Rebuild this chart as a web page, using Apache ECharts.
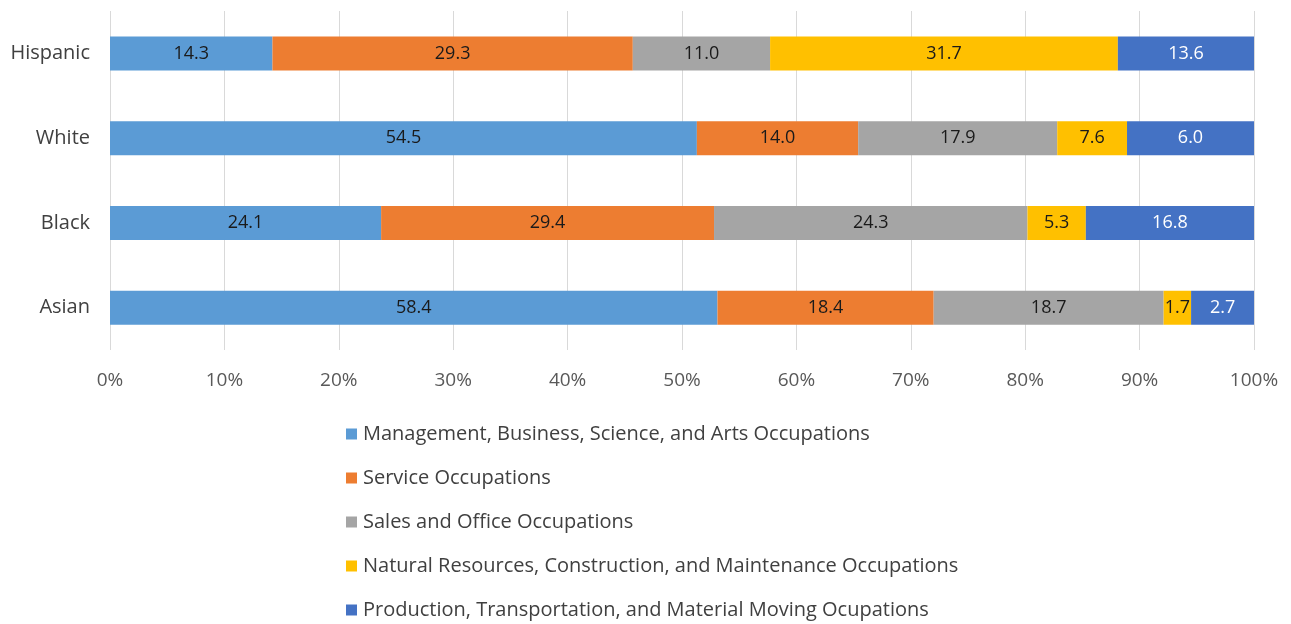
<!DOCTYPE html>
<html>
<head>
<meta charset="utf-8">
<script src="https://cdn.jsdelivr.net/npm/echarts@6/dist/echarts.min.js"></script>
<style>
  html, body { margin: 0; padding: 0; background: #fff; }
  #chart { width: 1291px; height: 624px; }
</style>
</head>
<body>
<div id="chart"></div>
<script>
// categories, top to bottom
const groups = ["Hispanic", "White", "Black", "Asian"];

const occupations = [
  "Management, Business, Science, and Arts Occupations",
  "Service Occupations",
  "Sales and Office Occupations",
  "Natural Resources, Construction, and Maintenance Occupations",
  "Production, Transportation, and Material Moving Ocupations"
];

// bar widths as drawn (share of 100%)
const mgmtWidth  = [14.2, 51.3, 23.7, 53.1];
const servWidth  = [31.5, 14.1, 29.1, 18.9];
const salesWidth = [12.0, 17.4, 27.4, 20.1];
const natWidth   = [30.4, 6.1, 5.1, 2.4];
const prodWidth  = [11.9, 11.1, 14.7, 5.5];

// data labels printed on the bars
const mgmtLabel  = ["14.3", "54.5", "24.1", "58.4"];
const servLabel  = ["29.3", "14.0", "29.4", "18.4"];
const salesLabel = ["11.0", "17.9", "24.3", "18.7"];
const natLabel   = ["31.7", "7.6", "5.3", "1.7"];
const prodLabel  = ["13.6", "6.0", "16.8", "2.7"];

const xTicks = [0, 10, 20, 30, 40, 50, 60, 70, 80, 90, 100];

const colors = ["#5B9BD5", "#ED7D31", "#A5A5A5", "#FFC000", "#4472C4"];
const widths = [mgmtWidth, servWidth, salesWidth, natWidth, prodWidth];
const labels = [mgmtLabel, servLabel, salesLabel, natLabel, prodLabel];

const font = "'Open Sans', 'Noto Sans', sans-serif";

let chart = echarts.init(document.getElementById("chart"));

let series = occupations.map((name, i) => ({
  name: name,
  type: "bar",
  stack: "total",
  barWidth: 34,
  itemStyle: { color: colors[i] },
  label: {
    show: true,
    position: "inside",
    fontFamily: font,
    fontSize: 18,
    color: i === 4 ? "#ffffff" : "#1a1a1a",
    formatter: (p) => labels[i][p.dataIndex]
  },
  data: widths[i]
}));

chart.setOption({
  animation: false,
  textStyle: { fontFamily: font },
  grid: { left: 110, right: 37, top: 11, height: 339, containLabel: false },
  legend: {
    orient: "vertical",
    left: 346,
    top: 424,
    height: 240,
    padding: 0,
    itemWidth: 11,
    itemHeight: 11,
    itemGap: 24,
    icon: "rect",
    textStyle: { fontFamily: font, fontSize: 20, color: "#404040", padding: [0, 0, 0, 1] },
    data: occupations
  },
  xAxis: {
    type: "value",
    min: 0,
    max: 100,
    interval: 10,
    axisLine: { show: false },
    axisTick: { show: false },
    splitLine: { show: true, lineStyle: { color: "#d9d9d9", width: 1 } },
    axisLabel: {
      margin: 21,
      fontSize: 19,
      color: "#595959",
      formatter: (v) => xTicks.includes(v) ? v + "%" : ""
    }
  },
  yAxis: {
    type: "category",
    inverse: true,
    data: groups,
    axisLine: { show: false },
    axisTick: { show: false },
    axisLabel: { margin: 20, fontSize: 20, color: "#404040" }
  },
  series: series
});
</script>
</body>
</html>
